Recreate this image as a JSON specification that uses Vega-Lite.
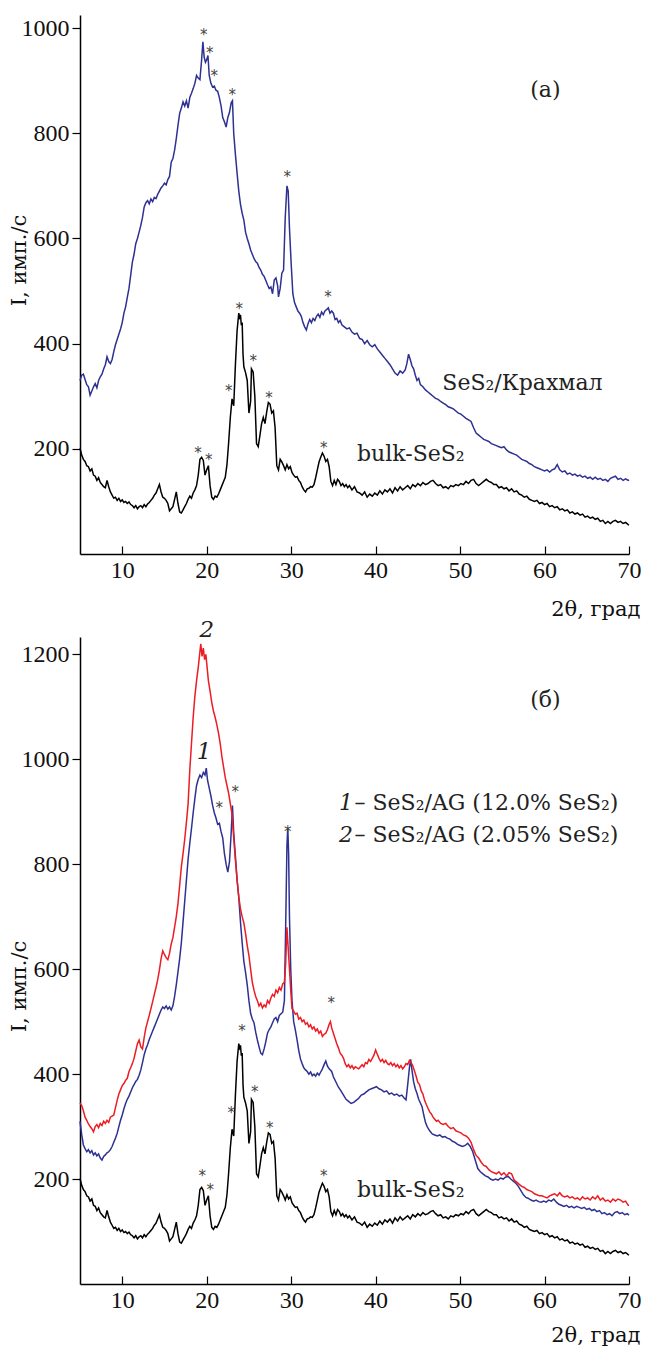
{
"$schema":"https://vega.github.io/schema/vega-lite/v6.json",
"background":"white",
"padding":{"left":8,"top":15,"right":2,"bottom":2},
"bounds":"flush",
"spacing":83,
"config":{"view":{"stroke":null},"font":"DejaVu Serif",
"text":{"font":"DejaVu Serif"},
"axis":{"grid":false,"domainColor":"#000","tickColor":"#000","labelColor":"#111","titleColor":"#111","labelFont":"Liberation Serif","titleFont":"DejaVu Serif","labelFontSize":24,"titleFontSize":21,"titleFontWeight":"normal","domainWidth":1.5,"tickWidth":1.2,"labelFlush":false,"format":"d"}},
"datasets":{
"bulk":[{"x":5,"y":201},{"x":5.2,"y":188},{"x":5.4,"y":180},{"x":5.6,"y":176},{"x":5.8,"y":168},{"x":6,"y":166},{"x":6.2,"y":158},{"x":6.4,"y":162},{"x":6.6,"y":150},{"x":6.8,"y":148},{"x":7,"y":140},{"x":7.2,"y":145},{"x":7.4,"y":136},{"x":7.6,"y":132},{"x":7.8,"y":128},{"x":8,"y":126},{"x":8.2,"y":140},{"x":8.4,"y":128},{"x":8.6,"y":118},{"x":8.8,"y":112},{"x":9,"y":106},{"x":9.2,"y":108},{"x":9.4,"y":102},{"x":9.6,"y":106},{"x":9.8,"y":100},{"x":10,"y":103},{"x":10.2,"y":98},{"x":10.4,"y":100},{"x":10.6,"y":96},{"x":10.8,"y":99},{"x":11,"y":94},{"x":11.2,"y":92},{"x":11.4,"y":88},{"x":11.6,"y":92},{"x":11.8,"y":86},{"x":12,"y":90},{"x":12.2,"y":92},{"x":12.4,"y":88},{"x":12.6,"y":94},{"x":12.8,"y":90},{"x":13,"y":95},{"x":13.2,"y":98},{"x":13.4,"y":102},{"x":13.6,"y":106},{"x":13.8,"y":112},{"x":14,"y":116},{"x":14.2,"y":124},{"x":14.4,"y":132},{"x":14.6,"y":118},{"x":14.8,"y":108},{"x":15,"y":106},{"x":15.2,"y":102},{"x":15.4,"y":96},{"x":15.6,"y":82},{"x":15.8,"y":86},{"x":16,"y":90},{"x":16.2,"y":104},{"x":16.4,"y":118},{"x":16.6,"y":96},{"x":16.8,"y":80},{"x":17,"y":78},{"x":17.2,"y":84},{"x":17.4,"y":90},{"x":17.6,"y":96},{"x":17.8,"y":104},{"x":18,"y":110},{"x":18.2,"y":106},{"x":18.4,"y":116},{"x":18.6,"y":122},{"x":18.8,"y":130},{"x":19,"y":150},{"x":19.2,"y":180},{"x":19.4,"y":184},{"x":19.6,"y":178},{"x":19.8,"y":150},{"x":20,"y":160},{"x":20.2,"y":168},{"x":20.4,"y":130},{"x":20.6,"y":108},{"x":20.8,"y":104},{"x":21,"y":110},{"x":21.2,"y":108},{"x":21.4,"y":114},{"x":21.6,"y":122},{"x":21.8,"y":130},{"x":22,"y":138},{"x":22.2,"y":146},{"x":22.4,"y":170},{"x":22.6,"y":212},{"x":22.8,"y":260},{"x":23,"y":295},{"x":23.2,"y":282},{"x":23.4,"y":360},{"x":23.6,"y":425},{"x":23.8,"y":458},{"x":23.9,"y":450},{"x":24,"y":455},{"x":24.1,"y":435},{"x":24.2,"y":440},{"x":24.3,"y":380},{"x":24.4,"y":356},{"x":24.6,"y":345},{"x":24.8,"y":330},{"x":25,"y":268},{"x":25.2,"y":290},{"x":25.3,"y":352},{"x":25.5,"y":346},{"x":25.7,"y":300},{"x":25.9,"y":210},{"x":26.1,"y":204},{"x":26.3,"y":225},{"x":26.5,"y":248},{"x":26.7,"y":260},{"x":26.9,"y":248},{"x":27.1,"y":270},{"x":27.3,"y":288},{"x":27.5,"y":285},{"x":27.7,"y":268},{"x":27.9,"y":272},{"x":28.1,"y":240},{"x":28.3,"y":168},{"x":28.5,"y":160},{"x":28.7,"y":180},{"x":28.9,"y":175},{"x":29.1,"y":168},{"x":29.3,"y":160},{"x":29.5,"y":170},{"x":29.7,"y":162},{"x":29.9,"y":166},{"x":30.1,"y":155},{"x":30.3,"y":150},{"x":30.5,"y":146},{"x":30.7,"y":147},{"x":30.9,"y":140},{"x":31.1,"y":136},{"x":31.3,"y":128},{"x":31.5,"y":122},{"x":31.7,"y":118},{"x":31.9,"y":124},{"x":32.1,"y":125},{"x":32.3,"y":128},{"x":32.5,"y":127},{"x":32.7,"y":132},{"x":32.9,"y":145},{"x":33.1,"y":160},{"x":33.3,"y":175},{"x":33.5,"y":184},{"x":33.7,"y":192},{"x":33.9,"y":186},{"x":34.1,"y":176},{"x":34.3,"y":180},{"x":34.5,"y":166},{"x":34.7,"y":138},{"x":34.9,"y":130},{"x":35.1,"y":140},{"x":35.3,"y":132},{"x":35.5,"y":142},{"x":35.7,"y":138},{"x":35.9,"y":130},{"x":36.1,"y":134},{"x":36.3,"y":128},{"x":36.5,"y":132},{"x":36.7,"y":126},{"x":36.9,"y":130},{"x":37.2,"y":122},{"x":37.5,"y":128},{"x":37.8,"y":118},{"x":38.1,"y":116},{"x":38.4,"y":112},{"x":38.7,"y":118},{"x":39,"y":108},{"x":39.3,"y":114},{"x":39.6,"y":110},{"x":39.9,"y":116},{"x":40.2,"y":112},{"x":40.5,"y":120},{"x":40.8,"y":114},{"x":41.1,"y":122},{"x":41.4,"y":118},{"x":41.7,"y":124},{"x":42,"y":116},{"x":42.3,"y":126},{"x":42.6,"y":120},{"x":42.9,"y":128},{"x":43.2,"y":122},{"x":43.5,"y":126},{"x":43.8,"y":130},{"x":44.1,"y":124},{"x":44.4,"y":132},{"x":44.7,"y":128},{"x":45,"y":134},{"x":45.3,"y":130},{"x":45.6,"y":136},{"x":45.9,"y":132},{"x":46.2,"y":134},{"x":46.5,"y":138},{"x":46.8,"y":140},{"x":47.1,"y":134},{"x":47.4,"y":130},{"x":47.7,"y":132},{"x":48,"y":126},{"x":48.3,"y":128},{"x":48.6,"y":124},{"x":48.9,"y":130},{"x":49.2,"y":128},{"x":49.5,"y":132},{"x":49.8,"y":130},{"x":50.1,"y":134},{"x":50.4,"y":132},{"x":50.7,"y":138},{"x":51,"y":134},{"x":51.3,"y":140},{"x":51.6,"y":142},{"x":51.9,"y":134},{"x":52.2,"y":130},{"x":52.5,"y":134},{"x":52.8,"y":138},{"x":53.1,"y":142},{"x":53.4,"y":138},{"x":53.7,"y":136},{"x":54,"y":132},{"x":54.3,"y":132},{"x":54.6,"y":126},{"x":54.9,"y":128},{"x":55.2,"y":124},{"x":55.5,"y":126},{"x":55.8,"y":120},{"x":56.1,"y":124},{"x":56.4,"y":118},{"x":56.7,"y":120},{"x":57,"y":114},{"x":57.3,"y":112},{"x":57.6,"y":108},{"x":57.9,"y":110},{"x":58.2,"y":104},{"x":58.5,"y":102},{"x":58.8,"y":100},{"x":59.1,"y":102},{"x":59.4,"y":96},{"x":59.7,"y":98},{"x":60,"y":94},{"x":60.3,"y":96},{"x":60.6,"y":90},{"x":60.9,"y":92},{"x":61.2,"y":88},{"x":61.5,"y":90},{"x":61.8,"y":84},{"x":62.1,"y":86},{"x":62.4,"y":82},{"x":62.7,"y":84},{"x":63,"y":78},{"x":63.3,"y":80},{"x":63.6,"y":76},{"x":63.9,"y":78},{"x":64.2,"y":74},{"x":64.5,"y":76},{"x":64.8,"y":70},{"x":65.1,"y":72},{"x":65.4,"y":68},{"x":65.7,"y":70},{"x":66,"y":66},{"x":66.3,"y":68},{"x":66.6,"y":62},{"x":66.9,"y":64},{"x":67.2,"y":58},{"x":67.5,"y":62},{"x":67.8,"y":58},{"x":68.1,"y":62},{"x":68.4,"y":64},{"x":68.7,"y":60},{"x":69,"y":62},{"x":69.3,"y":58},{"x":69.6,"y":60},{"x":69.9,"y":56},{"x":70,"y":55}],
"starch":[{"x":5,"y":330},{"x":5.2,"y":340},{"x":5.4,"y":342},{"x":5.6,"y":332},{"x":5.8,"y":322},{"x":6,"y":318},{"x":6.2,"y":302},{"x":6.4,"y":310},{"x":6.6,"y":318},{"x":6.8,"y":324},{"x":7,"y":316},{"x":7.2,"y":330},{"x":7.4,"y":337},{"x":7.6,"y":342},{"x":7.8,"y":352},{"x":8,"y":360},{"x":8.2,"y":375},{"x":8.4,"y":366},{"x":8.6,"y":362},{"x":8.8,"y":370},{"x":9,"y":385},{"x":9.2,"y":398},{"x":9.4,"y":408},{"x":9.6,"y":418},{"x":9.8,"y":428},{"x":10,"y":440},{"x":10.2,"y":458},{"x":10.4,"y":470},{"x":10.6,"y":488},{"x":10.8,"y":505},{"x":11,"y":530},{"x":11.2,"y":555},{"x":11.4,"y":570},{"x":11.6,"y":590},{"x":11.8,"y":600},{"x":12,"y":612},{"x":12.2,"y":625},{"x":12.4,"y":640},{"x":12.6,"y":660},{"x":12.8,"y":668},{"x":13,"y":672},{"x":13.2,"y":666},{"x":13.4,"y":675},{"x":13.6,"y":670},{"x":13.8,"y":678},{"x":14,"y":676},{"x":14.2,"y":684},{"x":14.4,"y":690},{"x":14.6,"y":696},{"x":14.8,"y":700},{"x":15,"y":705},{"x":15.2,"y":702},{"x":15.4,"y":712},{"x":15.6,"y":718},{"x":15.8,"y":745},{"x":16,"y":752},{"x":16.2,"y":768},{"x":16.4,"y":790},{"x":16.6,"y":815},{"x":16.8,"y":838},{"x":17,"y":848},{"x":17.2,"y":860},{"x":17.4,"y":852},{"x":17.6,"y":862},{"x":17.8,"y":848},{"x":18,"y":868},{"x":18.2,"y":876},{"x":18.4,"y":885},{"x":18.6,"y":895},{"x":18.8,"y":910},{"x":19,"y":905},{"x":19.2,"y":902},{"x":19.4,"y":940},{"x":19.55,"y":974},{"x":19.7,"y":945},{"x":19.85,"y":935},{"x":20,"y":940},{"x":20.15,"y":948},{"x":20.3,"y":910},{"x":20.5,"y":895},{"x":20.7,"y":888},{"x":20.9,"y":890},{"x":21.1,"y":882},{"x":21.3,"y":880},{"x":21.5,"y":868},{"x":21.7,"y":852},{"x":21.9,"y":830},{"x":22.1,"y":822},{"x":22.3,"y":812},{"x":22.5,"y":830},{"x":22.7,"y":840},{"x":22.9,"y":858},{"x":23.05,"y":862},{"x":23.2,"y":800},{"x":23.4,"y":760},{"x":23.6,"y":724},{"x":23.8,"y":690},{"x":24,"y":665},{"x":24.2,"y":648},{"x":24.4,"y":635},{"x":24.6,"y":612},{"x":24.8,"y":600},{"x":25,"y":590},{"x":25.2,"y":578},{"x":25.4,"y":570},{"x":25.6,"y":562},{"x":25.8,"y":556},{"x":26,"y":553},{"x":26.2,"y":545},{"x":26.4,"y":540},{"x":26.6,"y":532},{"x":26.8,"y":528},{"x":27,"y":520},{"x":27.2,"y":512},{"x":27.4,"y":505},{"x":27.6,"y":508},{"x":27.8,"y":495},{"x":28,"y":521},{"x":28.2,"y":525},{"x":28.4,"y":510},{"x":28.5,"y":489},{"x":28.7,"y":505},{"x":28.9,"y":534},{"x":29.1,"y":540},{"x":29.3,"y":640},{"x":29.5,"y":700},{"x":29.65,"y":690},{"x":29.8,"y":620},{"x":30,"y":553},{"x":30.2,"y":495},{"x":30.4,"y":478},{"x":30.6,"y":470},{"x":30.8,"y":462},{"x":31,"y":458},{"x":31.2,"y":452},{"x":31.4,"y":440},{"x":31.6,"y":432},{"x":31.8,"y":426},{"x":32,"y":438},{"x":32.2,"y":446},{"x":32.4,"y":440},{"x":32.6,"y":448},{"x":32.8,"y":444},{"x":33,"y":452},{"x":33.2,"y":456},{"x":33.4,"y":450},{"x":33.6,"y":460},{"x":33.8,"y":455},{"x":34,"y":462},{"x":34.2,"y":465},{"x":34.4,"y":468},{"x":34.6,"y":458},{"x":34.8,"y":462},{"x":35,"y":458},{"x":35.2,"y":446},{"x":35.4,"y":448},{"x":35.6,"y":440},{"x":35.8,"y":444},{"x":36,"y":436},{"x":36.3,"y":432},{"x":36.6,"y":428},{"x":36.9,"y":430},{"x":37.2,"y":422},{"x":37.5,"y":418},{"x":37.8,"y":420},{"x":38.1,"y":410},{"x":38.4,"y":408},{"x":38.7,"y":400},{"x":39,"y":406},{"x":39.3,"y":398},{"x":39.6,"y":394},{"x":39.9,"y":398},{"x":40.2,"y":390},{"x":40.5,"y":384},{"x":40.8,"y":378},{"x":41.1,"y":372},{"x":41.4,"y":366},{"x":41.7,"y":360},{"x":42,"y":352},{"x":42.3,"y":344},{"x":42.6,"y":340},{"x":42.9,"y":348},{"x":43.2,"y":344},{"x":43.5,"y":350},{"x":43.7,"y":362},{"x":43.9,"y":380},{"x":44.1,"y":370},{"x":44.3,"y":358},{"x":44.5,"y":352},{"x":44.7,"y":340},{"x":44.9,"y":330},{"x":45.1,"y":334},{"x":45.3,"y":322},{"x":45.6,"y":318},{"x":45.9,"y":312},{"x":46.2,"y":308},{"x":46.5,"y":304},{"x":46.8,"y":300},{"x":47.1,"y":296},{"x":47.4,"y":294},{"x":47.7,"y":290},{"x":48,"y":287},{"x":48.3,"y":284},{"x":48.6,"y":280},{"x":48.9,"y":278},{"x":49.2,"y":276},{"x":49.5,"y":272},{"x":49.8,"y":268},{"x":50.1,"y":266},{"x":50.4,"y":262},{"x":50.7,"y":258},{"x":51,"y":255},{"x":51.3,"y":252},{"x":51.6,"y":240},{"x":51.9,"y":230},{"x":52.2,"y":226},{"x":52.5,"y":222},{"x":52.8,"y":218},{"x":53.1,"y":216},{"x":53.4,"y":214},{"x":53.7,"y":210},{"x":54,"y":208},{"x":54.3,"y":206},{"x":54.6,"y":204},{"x":54.9,"y":202},{"x":55.2,"y":204},{"x":55.5,"y":198},{"x":55.8,"y":194},{"x":56.1,"y":192},{"x":56.4,"y":190},{"x":56.7,"y":188},{"x":57,"y":184},{"x":57.3,"y":180},{"x":57.6,"y":178},{"x":57.9,"y":176},{"x":58.2,"y":172},{"x":58.5,"y":170},{"x":58.8,"y":166},{"x":59.1,"y":164},{"x":59.4,"y":162},{"x":59.7,"y":160},{"x":60,"y":158},{"x":60.3,"y":160},{"x":60.6,"y":156},{"x":60.9,"y":160},{"x":61.2,"y":162},{"x":61.5,"y":170},{"x":61.8,"y":160},{"x":62.1,"y":156},{"x":62.4,"y":158},{"x":62.7,"y":152},{"x":63,"y":154},{"x":63.3,"y":150},{"x":63.6,"y":152},{"x":63.9,"y":148},{"x":64.2,"y":150},{"x":64.5,"y":146},{"x":64.8,"y":148},{"x":65.1,"y":144},{"x":65.4,"y":146},{"x":65.7,"y":142},{"x":66,"y":146},{"x":66.3,"y":142},{"x":66.6,"y":144},{"x":66.9,"y":140},{"x":67.2,"y":142},{"x":67.5,"y":138},{"x":67.8,"y":144},{"x":68.1,"y":146},{"x":68.4,"y":148},{"x":68.7,"y":142},{"x":69,"y":144},{"x":69.3,"y":140},{"x":69.6,"y":143},{"x":69.9,"y":140},{"x":70,"y":141}],
"ag205":[{"x":5,"y":345},{"x":5.2,"y":340},{"x":5.4,"y":330},{"x":5.6,"y":318},{"x":5.8,"y":312},{"x":6,"y":305},{"x":6.2,"y":300},{"x":6.4,"y":296},{"x":6.6,"y":290},{"x":6.8,"y":300},{"x":7,"y":304},{"x":7.2,"y":298},{"x":7.4,"y":306},{"x":7.6,"y":302},{"x":7.8,"y":310},{"x":8,"y":306},{"x":8.2,"y":312},{"x":8.4,"y":308},{"x":8.6,"y":318},{"x":8.8,"y":320},{"x":9,"y":322},{"x":9.2,"y":336},{"x":9.4,"y":350},{"x":9.6,"y":362},{"x":9.8,"y":370},{"x":10,"y":378},{"x":10.2,"y":382},{"x":10.4,"y":388},{"x":10.6,"y":392},{"x":10.8,"y":405},{"x":11,"y":412},{"x":11.2,"y":420},{"x":11.4,"y":430},{"x":11.6,"y":444},{"x":11.8,"y":458},{"x":12,"y":465},{"x":12.2,"y":452},{"x":12.4,"y":448},{"x":12.6,"y":470},{"x":12.8,"y":488},{"x":13,"y":500},{"x":13.2,"y":512},{"x":13.4,"y":525},{"x":13.6,"y":538},{"x":13.8,"y":552},{"x":14,"y":565},{"x":14.2,"y":580},{"x":14.4,"y":598},{"x":14.6,"y":620},{"x":14.8,"y":635},{"x":15,"y":628},{"x":15.2,"y":622},{"x":15.4,"y":618},{"x":15.6,"y":630},{"x":15.8,"y":648},{"x":16,"y":660},{"x":16.2,"y":680},{"x":16.4,"y":700},{"x":16.6,"y":725},{"x":16.8,"y":760},{"x":17,"y":795},{"x":17.2,"y":820},{"x":17.4,"y":848},{"x":17.6,"y":880},{"x":17.8,"y":915},{"x":18,"y":980},{"x":18.2,"y":1030},{"x":18.4,"y":1080},{"x":18.6,"y":1120},{"x":18.8,"y":1150},{"x":19,"y":1175},{"x":19.2,"y":1205},{"x":19.3,"y":1220},{"x":19.45,"y":1196},{"x":19.6,"y":1212},{"x":19.75,"y":1190},{"x":19.9,"y":1200},{"x":20.05,"y":1175},{"x":20.2,"y":1150},{"x":20.4,"y":1130},{"x":20.6,"y":1108},{"x":20.8,"y":1092},{"x":21,"y":1080},{"x":21.2,"y":1066},{"x":21.4,"y":1050},{"x":21.6,"y":1030},{"x":21.8,"y":1005},{"x":22,"y":985},{"x":22.2,"y":965},{"x":22.4,"y":950},{"x":22.6,"y":935},{"x":22.8,"y":915},{"x":23,"y":895},{"x":23.2,"y":850},{"x":23.4,"y":808},{"x":23.6,"y":770},{"x":23.8,"y":738},{"x":24,"y":715},{"x":24.2,"y":700},{"x":24.4,"y":688},{"x":24.6,"y":668},{"x":24.8,"y":645},{"x":25,"y":626},{"x":25.2,"y":600},{"x":25.4,"y":575},{"x":25.6,"y":560},{"x":25.8,"y":548},{"x":26,"y":540},{"x":26.2,"y":530},{"x":26.4,"y":535},{"x":26.6,"y":526},{"x":26.8,"y":532},{"x":27,"y":528},{"x":27.2,"y":540},{"x":27.4,"y":535},{"x":27.6,"y":545},{"x":27.8,"y":552},{"x":28,"y":548},{"x":28.2,"y":560},{"x":28.4,"y":555},{"x":28.6,"y":565},{"x":28.8,"y":560},{"x":29,"y":572},{"x":29.2,"y":575},{"x":29.35,"y":610},{"x":29.5,"y":680},{"x":29.65,"y":640},{"x":29.8,"y":600},{"x":29.95,"y":560},{"x":30.1,"y":525},{"x":30.3,"y":520},{"x":30.5,"y":514},{"x":30.7,"y":516},{"x":30.9,"y":505},{"x":31.1,"y":508},{"x":31.3,"y":500},{"x":31.5,"y":503},{"x":31.7,"y":495},{"x":31.9,"y":498},{"x":32.1,"y":490},{"x":32.3,"y":494},{"x":32.5,"y":486},{"x":32.7,"y":490},{"x":32.9,"y":482},{"x":33.1,"y":486},{"x":33.3,"y":478},{"x":33.5,"y":482},{"x":33.7,"y":472},{"x":33.9,"y":476},{"x":34.1,"y":478},{"x":34.3,"y":485},{"x":34.5,"y":495},{"x":34.65,"y":500},{"x":34.8,"y":488},{"x":35,"y":478},{"x":35.2,"y":468},{"x":35.4,"y":458},{"x":35.6,"y":450},{"x":35.8,"y":440},{"x":36,"y":436},{"x":36.2,"y":430},{"x":36.4,"y":420},{"x":36.6,"y":414},{"x":36.8,"y":418},{"x":37,"y":412},{"x":37.2,"y":416},{"x":37.4,"y":410},{"x":37.6,"y":414},{"x":37.8,"y":412},{"x":38,"y":410},{"x":38.2,"y":414},{"x":38.4,"y":418},{"x":38.6,"y":414},{"x":38.8,"y":422},{"x":39,"y":420},{"x":39.2,"y":428},{"x":39.4,"y":424},{"x":39.6,"y":430},{"x":39.8,"y":436},{"x":40,"y":446},{"x":40.2,"y":438},{"x":40.4,"y":430},{"x":40.6,"y":424},{"x":40.8,"y":428},{"x":41,"y":422},{"x":41.2,"y":426},{"x":41.4,"y":420},{"x":41.6,"y":418},{"x":41.8,"y":422},{"x":42,"y":416},{"x":42.2,"y":420},{"x":42.4,"y":414},{"x":42.6,"y":418},{"x":42.8,"y":412},{"x":43,"y":416},{"x":43.2,"y":410},{"x":43.4,"y":414},{"x":43.6,"y":420},{"x":43.8,"y":418},{"x":44,"y":426},{"x":44.2,"y":422},{"x":44.4,"y":416},{"x":44.6,"y":406},{"x":44.8,"y":396},{"x":45,"y":384},{"x":45.2,"y":380},{"x":45.4,"y":368},{"x":45.6,"y":362},{"x":45.8,"y":350},{"x":46,"y":342},{"x":46.2,"y":335},{"x":46.4,"y":328},{"x":46.6,"y":324},{"x":46.8,"y":318},{"x":47,"y":314},{"x":47.2,"y":310},{"x":47.4,"y":312},{"x":47.7,"y":306},{"x":48,"y":304},{"x":48.3,"y":306},{"x":48.6,"y":300},{"x":48.9,"y":296},{"x":49.2,"y":298},{"x":49.5,"y":292},{"x":49.8,"y":290},{"x":50.1,"y":288},{"x":50.4,"y":284},{"x":50.7,"y":282},{"x":51,"y":278},{"x":51.3,"y":270},{"x":51.6,"y":256},{"x":51.9,"y":245},{"x":52.2,"y":240},{"x":52.5,"y":232},{"x":52.8,"y":226},{"x":53.1,"y":224},{"x":53.4,"y":218},{"x":53.7,"y":214},{"x":54,"y":212},{"x":54.3,"y":210},{"x":54.6,"y":214},{"x":54.9,"y":208},{"x":55.2,"y":212},{"x":55.5,"y":206},{"x":55.8,"y":212},{"x":56.1,"y":210},{"x":56.4,"y":198},{"x":56.7,"y":194},{"x":57,"y":190},{"x":57.3,"y":186},{"x":57.6,"y":184},{"x":57.9,"y":180},{"x":58.2,"y":178},{"x":58.5,"y":176},{"x":58.8,"y":172},{"x":59.1,"y":170},{"x":59.4,"y":168},{"x":59.7,"y":168},{"x":60,"y":166},{"x":60.3,"y":164},{"x":60.6,"y":168},{"x":60.9,"y":170},{"x":61.2,"y":172},{"x":61.5,"y":168},{"x":61.8,"y":174},{"x":62.1,"y":168},{"x":62.4,"y":166},{"x":62.7,"y":168},{"x":63,"y":164},{"x":63.3,"y":166},{"x":63.6,"y":162},{"x":63.9,"y":164},{"x":64.2,"y":160},{"x":64.5,"y":166},{"x":64.8,"y":162},{"x":65.1,"y":164},{"x":65.4,"y":160},{"x":65.7,"y":166},{"x":66,"y":162},{"x":66.3,"y":168},{"x":66.6,"y":160},{"x":66.9,"y":164},{"x":67.2,"y":158},{"x":67.5,"y":160},{"x":67.8,"y":156},{"x":68.1,"y":162},{"x":68.4,"y":158},{"x":68.7,"y":162},{"x":69,"y":160},{"x":69.3,"y":156},{"x":69.6,"y":158},{"x":69.9,"y":150},{"x":70,"y":150}],
"ag12":[{"x":5,"y":310},{"x":5.2,"y":285},{"x":5.4,"y":265},{"x":5.6,"y":258},{"x":5.8,"y":252},{"x":6,"y":256},{"x":6.2,"y":250},{"x":6.4,"y":254},{"x":6.6,"y":246},{"x":6.8,"y":250},{"x":7,"y":244},{"x":7.2,"y":248},{"x":7.4,"y":240},{"x":7.6,"y":236},{"x":7.8,"y":243},{"x":8,"y":246},{"x":8.2,"y":250},{"x":8.4,"y":252},{"x":8.6,"y":256},{"x":8.8,"y":262},{"x":9,"y":270},{"x":9.2,"y":278},{"x":9.4,"y":287},{"x":9.6,"y":300},{"x":9.8,"y":312},{"x":10,"y":322},{"x":10.2,"y":334},{"x":10.4,"y":344},{"x":10.6,"y":352},{"x":10.8,"y":358},{"x":11,"y":366},{"x":11.2,"y":374},{"x":11.4,"y":380},{"x":11.6,"y":386},{"x":11.8,"y":390},{"x":12,"y":398},{"x":12.2,"y":408},{"x":12.4,"y":422},{"x":12.6,"y":437},{"x":12.8,"y":448},{"x":13,"y":456},{"x":13.2,"y":466},{"x":13.4,"y":474},{"x":13.6,"y":482},{"x":13.8,"y":490},{"x":14,"y":498},{"x":14.2,"y":506},{"x":14.4,"y":514},{"x":14.6,"y":522},{"x":14.8,"y":528},{"x":15,"y":525},{"x":15.2,"y":530},{"x":15.4,"y":524},{"x":15.6,"y":528},{"x":15.8,"y":522},{"x":16,"y":530},{"x":16.2,"y":548},{"x":16.4,"y":570},{"x":16.6,"y":595},{"x":16.8,"y":620},{"x":17,"y":650},{"x":17.2,"y":690},{"x":17.4,"y":730},{"x":17.6,"y":770},{"x":17.8,"y":810},{"x":18,"y":840},{"x":18.2,"y":868},{"x":18.4,"y":898},{"x":18.6,"y":925},{"x":18.8,"y":950},{"x":19,"y":962},{"x":19.2,"y":970},{"x":19.4,"y":965},{"x":19.6,"y":975},{"x":19.8,"y":970},{"x":19.95,"y":983},{"x":20.1,"y":960},{"x":20.3,"y":945},{"x":20.5,"y":930},{"x":20.7,"y":912},{"x":20.9,"y":898},{"x":21.1,"y":888},{"x":21.3,"y":876},{"x":21.5,"y":878},{"x":21.7,"y":862},{"x":21.9,"y":850},{"x":22.1,"y":820},{"x":22.3,"y":800},{"x":22.5,"y":785},{"x":22.7,"y":805},{"x":22.9,"y":860},{"x":23.05,"y":912},{"x":23.2,"y":860},{"x":23.4,"y":815},{"x":23.6,"y":770},{"x":23.8,"y":736},{"x":24,"y":690},{"x":24.2,"y":650},{"x":24.4,"y":615},{"x":24.6,"y":594},{"x":24.8,"y":570},{"x":25,"y":540},{"x":25.2,"y":516},{"x":25.4,"y":505},{"x":25.6,"y":498},{"x":25.8,"y":480},{"x":26,"y":465},{"x":26.2,"y":452},{"x":26.4,"y":440},{"x":26.6,"y":437},{"x":26.8,"y":448},{"x":27,"y":462},{"x":27.2,"y":478},{"x":27.4,"y":485},{"x":27.6,"y":490},{"x":27.8,"y":498},{"x":28,"y":505},{"x":28.2,"y":508},{"x":28.4,"y":500},{"x":28.6,"y":512},{"x":28.8,"y":515},{"x":29,"y":518},{"x":29.2,"y":540},{"x":29.35,"y":680},{"x":29.5,"y":835},{"x":29.6,"y":870},{"x":29.7,"y":820},{"x":29.8,"y":700},{"x":29.95,"y":600},{"x":30.1,"y":540},{"x":30.3,"y":500},{"x":30.5,"y":484},{"x":30.7,"y":465},{"x":30.9,"y":445},{"x":31.1,"y":429},{"x":31.3,"y":420},{"x":31.5,"y":412},{"x":31.7,"y":408},{"x":31.9,"y":405},{"x":32.1,"y":400},{"x":32.3,"y":404},{"x":32.5,"y":397},{"x":32.7,"y":400},{"x":32.9,"y":396},{"x":33.1,"y":402},{"x":33.3,"y":398},{"x":33.5,"y":404},{"x":33.7,"y":410},{"x":33.9,"y":418},{"x":34.1,"y":425},{"x":34.3,"y":415},{"x":34.5,"y":410},{"x":34.8,"y":405},{"x":35,"y":395},{"x":35.3,"y":385},{"x":35.6,"y":375},{"x":35.9,"y":368},{"x":36.2,"y":360},{"x":36.5,"y":352},{"x":36.8,"y":348},{"x":37.1,"y":344},{"x":37.4,"y":346},{"x":37.7,"y":350},{"x":38,"y":354},{"x":38.3,"y":360},{"x":38.6,"y":362},{"x":38.9,"y":366},{"x":39.2,"y":370},{"x":39.5,"y":372},{"x":39.8,"y":374},{"x":40.1,"y":376},{"x":40.4,"y":372},{"x":40.7,"y":370},{"x":41,"y":366},{"x":41.3,"y":368},{"x":41.6,"y":362},{"x":41.9,"y":364},{"x":42.2,"y":360},{"x":42.5,"y":362},{"x":42.8,"y":358},{"x":43.1,"y":360},{"x":43.4,"y":354},{"x":43.6,"y":351},{"x":43.8,"y":380},{"x":44,"y":412},{"x":44.15,"y":428},{"x":44.3,"y":408},{"x":44.5,"y":385},{"x":44.7,"y":372},{"x":44.9,"y":363},{"x":45.1,"y":352},{"x":45.3,"y":345},{"x":45.5,"y":338},{"x":45.7,"y":322},{"x":45.9,"y":308},{"x":46.1,"y":300},{"x":46.4,"y":292},{"x":46.7,"y":286},{"x":47,"y":284},{"x":47.3,"y":282},{"x":47.6,"y":284},{"x":47.9,"y":280},{"x":48.2,"y":281},{"x":48.5,"y":278},{"x":48.8,"y":276},{"x":49.1,"y":272},{"x":49.4,"y":270},{"x":49.7,"y":266},{"x":50,"y":264},{"x":50.3,"y":262},{"x":50.6,"y":264},{"x":50.9,"y":268},{"x":51.2,"y":262},{"x":51.5,"y":252},{"x":51.8,"y":236},{"x":52.1,"y":220},{"x":52.4,"y":214},{"x":52.7,"y":210},{"x":53,"y":206},{"x":53.3,"y":204},{"x":53.6,"y":200},{"x":53.9,"y":198},{"x":54.2,"y":200},{"x":54.5,"y":198},{"x":54.8,"y":202},{"x":55.1,"y":200},{"x":55.4,"y":204},{"x":55.7,"y":205},{"x":56,"y":200},{"x":56.3,"y":196},{"x":56.6,"y":192},{"x":56.9,"y":186},{"x":57.2,"y":178},{"x":57.5,"y":170},{"x":57.8,"y":165},{"x":58.1,"y":163},{"x":58.4,"y":160},{"x":58.7,"y":158},{"x":59,"y":160},{"x":59.3,"y":157},{"x":59.6,"y":156},{"x":59.9,"y":158},{"x":60.2,"y":156},{"x":60.5,"y":160},{"x":60.8,"y":158},{"x":61.1,"y":162},{"x":61.4,"y":156},{"x":61.7,"y":152},{"x":62,"y":150},{"x":62.3,"y":148},{"x":62.6,"y":150},{"x":62.9,"y":146},{"x":63.2,"y":148},{"x":63.5,"y":145},{"x":63.8,"y":148},{"x":64.1,"y":146},{"x":64.4,"y":144},{"x":64.7,"y":146},{"x":65,"y":142},{"x":65.3,"y":144},{"x":65.6,"y":140},{"x":65.9,"y":142},{"x":66.2,"y":138},{"x":66.5,"y":140},{"x":66.8,"y":134},{"x":67.1,"y":136},{"x":67.4,"y":132},{"x":67.7,"y":134},{"x":68,"y":130},{"x":68.3,"y":136},{"x":68.6,"y":138},{"x":68.9,"y":134},{"x":69.2,"y":136},{"x":69.5,"y":132},{"x":69.8,"y":134},{"x":70,"y":131}],
"starsTop":[{"x":19.65,"y":993,"t":"*"},{"x":20.36,"y":958,"t":"*"},{"x":20.9,"y":915,"t":"*"},{"x":23.03,"y":878,"t":"*"},{"x":29.54,"y":722,"t":"*"},{"x":34.36,"y":494,"t":"*"},{"x":23.86,"y":471,"t":"*"},{"x":25.52,"y":372,"t":"*"},{"x":22.6,"y":315,"t":"*"},{"x":27.38,"y":302,"t":"*"},{"x":18.97,"y":198,"t":"*"},{"x":20.24,"y":184,"t":"*"},{"x":33.85,"y":207,"t":"*"}],
"starsBot":[{"x":21.49,"y":912,"t":"*"},{"x":23.39,"y":943,"t":"*"},{"x":29.59,"y":867,"t":"*"},{"x":34.75,"y":541,"t":"*"},{"x":24.18,"y":487,"t":"*"},{"x":25.68,"y":371,"t":"*"},{"x":22.91,"y":331,"t":"*"},{"x":27.46,"y":303,"t":"*"},{"x":19.48,"y":212,"t":"*"},{"x":20.43,"y":185,"t":"*"},{"x":33.85,"y":211,"t":"*"}]
},
"vconcat":[
{"width":549,"height":539,
"encoding":{
"x":{"field":"x","type":"quantitative","scale":{"domain":[5,70],"nice":false,"zero":false},"axis":{"values":[10,20,30,40,50,60,70],"format":"d","labelFont":"Liberation Serif","labelFontSize":24,"tickSize":-8,"labelPadding":12,"title":"2θ, град","titleFont":"DejaVu Serif","titleAnchor":null,"titleAlign":"right","titleX":560,"titleY":55,"titleBaseline":"middle"}},
"y":{"field":"y","type":"quantitative","scale":{"domain":[0,1025],"nice":false},"axis":{"values":[200,400,600,800,1000],"format":"d","labelFont":"Liberation Serif","labelFontSize":24,"tickSize":8,"labelPadding":3,"title":"I, имп./с","titleFont":"DejaVu Serif","titleX":-61,"titleY":245,"titleBaseline":"middle"}}},
"layer":[
{"data":{"name":"starch"},"mark":{"type":"line","color":"#2E3192","strokeWidth":1.5}},
{"data":{"name":"bulk"},"mark":{"type":"line","color":"#000000","strokeWidth":1.5}},
{"data":{"name":"starsTop"},"mark":{"type":"text","font":"DejaVu Sans","fill":"#444444","fontSize":15,"baseline":"middle","dy":3},"encoding":{"text":{"field":"t"}}},
{"data":{"values":[{"x":58.3,"y":882,"t":"(а)"},{"x":47.9,"y":325,"t":"SeS₂/Крахмал"},{"x":37.8,"y":190,"t":"bulk-SeS₂"}]},"mark":{"type":"text","font":"DejaVu Serif","fill":"#222222","fontSize":22,"align":"left","baseline":"middle"},"encoding":{"text":{"field":"t"}}}
]},
{"width":549,"height":647,
"encoding":{
"x":{"field":"x","type":"quantitative","scale":{"domain":[5,70],"nice":false,"zero":false},"axis":{"values":[10,20,30,40,50,60,70],"format":"d","labelFont":"Liberation Serif","labelFontSize":24,"tickSize":-8,"labelPadding":12,"title":"2θ, град","titleFont":"DejaVu Serif","titleAnchor":null,"titleAlign":"right","titleX":560,"titleY":51,"titleBaseline":"middle"}},
"y":{"field":"y","type":"quantitative","scale":{"domain":[0,1233],"nice":false},"axis":{"values":[200,400,600,800,1000,1200],"format":"d","labelFont":"Liberation Serif","labelFontSize":24,"tickSize":8,"labelPadding":3,"title":"I, имп./с","titleFont":"DejaVu Serif","titleX":-61,"titleY":349,"titleBaseline":"middle"}}},
"layer":[
{"data":{"name":"ag12"},"mark":{"type":"line","color":"#2E3192","strokeWidth":1.5}},
{"data":{"name":"ag205"},"mark":{"type":"line","color":"#ED1C24","strokeWidth":1.5}},
{"data":{"name":"bulk"},"mark":{"type":"line","color":"#000000","strokeWidth":1.5}},
{"data":{"name":"starsBot"},"mark":{"type":"text","font":"DejaVu Sans","fill":"#444444","fontSize":15,"baseline":"middle","dy":3},"encoding":{"text":{"field":"t"}}},
{"data":{"values":[{"x":58.3,"y":1112,"t":"(б)"},{"x":37.8,"y":179,"t":"bulk-SeS₂"},{"x":37.5,"y":916,"t":"– SeS₂/AG (12.0% SeS₂)"},{"x":37.5,"y":855,"t":"– SeS₂/AG (2.05% SeS₂)"}]},"mark":{"type":"text","font":"DejaVu Serif","fill":"#222222","fontSize":22,"align":"left","baseline":"middle"},"encoding":{"text":{"field":"t"}}},
{"data":{"values":[{"x":35.67,"y":916,"t":"1"},{"x":35.67,"y":855,"t":"2"}]},"mark":{"type":"text","font":"DejaVu Serif","fill":"#222222","fontSize":22,"fontStyle":"italic","align":"left","baseline":"middle"},"encoding":{"text":{"field":"t"}}},
{"data":{"values":[{"x":20.0,"y":1246,"t":"2"},{"x":19.7,"y":1013,"t":"1"}]},"mark":{"type":"text","font":"DejaVu Serif","fill":"#222222","fontSize":23,"fontStyle":"italic","align":"center","baseline":"middle"},"encoding":{"text":{"field":"t"}}}
]}
]
}
